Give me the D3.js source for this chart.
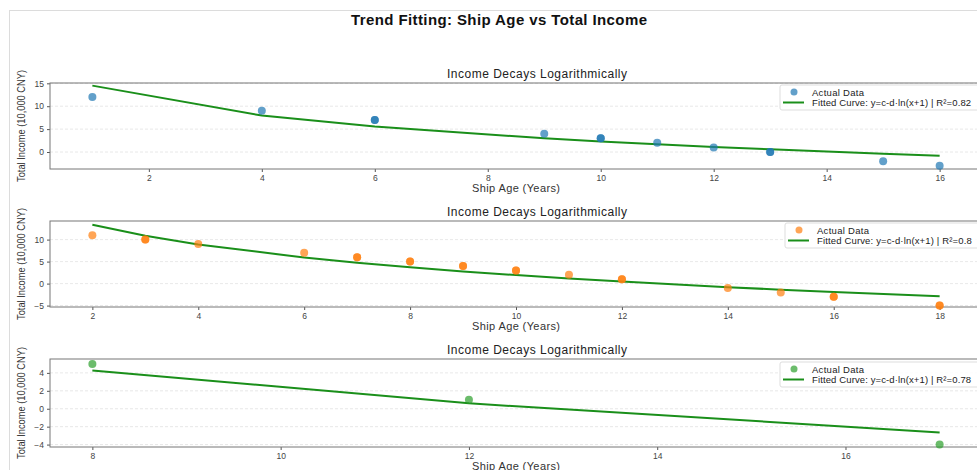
<!DOCTYPE html>
<html>
<head>
<meta charset="utf-8">
<script src="https://cdn.jsdelivr.net/npm/d3@7"></script>
<style>
  html, body { margin: 0; padding: 0; background: #fff; }
  svg { display: block; font-family: "Liberation Sans", Arial, sans-serif; }
</style>
</head>
<body>
<svg id="chart" width="977" height="470"></svg>
<script>
// Ship-age groups: observed income records (repeated records are kept as-is)
const ageA = [1, 4, 6, 6, 9, 10, 10, 11, 12, 13, 13, 15, 16];
const incomeA = [12, 9, 7, 7, 4, 3, 3, 2, 1, 0, 0, -2, -3];
const ageB = [2, 3, 3, 4, 6, 7, 7, 8, 8, 9, 9, 10, 10, 11, 12, 12, 14, 15, 16, 16, 18, 18];
const incomeB = [11, 10, 10, 9, 7, 6, 6, 5, 5, 4, 4, 3, 3, 2, 1, 1, -1, -2, -3, -3, -5, -5];
const ageC = [8, 12, 17];
const incomeC = [5, 1, -4];

// Fitted curve y = c - d*ln(x+1), evaluated at each distinct age
const fitAgeA = [1, 4, 6, 9, 10, 11, 12, 13, 15, 16];
const fitA = [14.5, 7.95, 5.55, 2.99, 2.31, 1.69, 1.12, 0.59, -0.36, -0.8];
const fitAgeB = [2, 3, 4, 6, 7, 8, 9, 10, 11, 12, 14, 15, 16, 18];
const fitB = [13.4, 10.86, 8.89, 5.92, 4.74, 3.7, 2.77, 1.93, 1.16, 0.45, -0.81, -1.38, -1.92, -2.9];
const fitAgeC = [8, 12, 17];
const fitC = [4.27, 0.6, -2.65];

const r2Labels = ["0.82", "0.8", "0.78"];
const xTicksA = [2, 4, 6, 8, 10, 12, 14, 16];
const xTicksB = [2, 4, 6, 8, 10, 12, 14, 16, 18];
const xTicksC = [8, 10, 12, 14, 16];
const yTicksA = [0, 5, 10, 15];
const yTicksB = [-5, 0, 5, 10];
const yTicksC = [-4, -2, 0, 2, 4];

const mainTitle = "Trend Fitting: Ship Age vs Total Income";
const subTitle = "Income Decays Logarithmically";
const xLabel = "Ship Age (Years)";
const yLabel = "Total Income (10,000 CNY)";

const panels = [
  { x: ageA, y: incomeA, fx: fitAgeA, fy: fitA, r2: r2Labels[0], xt: xTicksA, yt: yTicksA,
    xd: [0.25, 16.75], yd: [-3.71, 15.07], top: 83, bottom: 169, color: "#1f77b4",
    legend: { x: 780, y: 85 } },
  { x: ageB, y: incomeB, fx: fitAgeB, fy: fitB, r2: r2Labels[1], xt: xTicksB, yt: yTicksB,
    xd: [1.2, 18.8], yd: [-5.32, 14.23], top: 221, bottom: 307, color: "#ff7f0e",
    legend: { x: 785, y: 223 } },
  { x: ageC, y: incomeC, fx: fitAgeC, fy: fitC, r2: r2Labels[2], xt: xTicksC, yt: yTicksC,
    xd: [7.55, 17.45], yd: [-4.27, 5.55], top: 359, bottom: 447, color: "#2ca02c",
    legend: { x: 780, y: 362 } }
];

const svg = d3.select("#chart");
const left = 50, right = 982;
const fitColor = "#1a8f1a";

// figure frame
svg.append("rect").attr("x", 9.5).attr("y", 10.5).attr("width", 1000).attr("height", 500)
  .attr("fill", "none").attr("stroke", "#dcdcdc");

svg.append("text").attr("x", 499).attr("y", 25).attr("text-anchor", "middle")
  .attr("font-size", 15).attr("font-weight", "bold").attr("fill", "#111")
  .attr("textLength", 296).attr("lengthAdjust", "spacing").text(mainTitle);

panels.forEach(p => {
  const xs = d3.scaleLinear().domain(p.xd).range([left, right]);
  const ys = d3.scaleLinear().domain(p.yd).range([p.bottom, p.top]);
  const g = svg.append("g");

  // dashed horizontal grid
  g.selectAll("line.grid").data(p.yt).join("line").attr("class", "grid")
    .attr("x1", left).attr("x2", right).attr("y1", d => ys(d)).attr("y2", d => ys(d))
    .attr("stroke", "#e2e2e2").attr("stroke-dasharray", "3,2").attr("stroke-width", 0.8);

  // axes
  const xAxis = g.append("g").attr("transform", `translate(0,${p.bottom})`)
    .call(d3.axisBottom(xs).tickValues(p.xt).tickSize(3).tickPadding(3).tickFormat(d3.format("d")));
  const yAxis = g.append("g").attr("transform", `translate(${left},0)`)
    .call(d3.axisLeft(ys).tickValues(p.yt).tickSize(3).tickPadding(3).tickFormat(d3.format("d")));
  [xAxis, yAxis].forEach(a => {
    a.select(".domain").remove();
    a.selectAll(".tick line").attr("stroke", "#555");
    a.selectAll(".tick text").attr("fill", "#444").attr("font-size", 8.5)
      .attr("font-family", "Liberation Sans, Arial, sans-serif");
  });

  // plot border
  g.append("rect").attr("x", left).attr("y", p.top).attr("width", right - left)
    .attr("height", p.bottom - p.top).attr("fill", "none").attr("stroke", "#777").attr("stroke-width", 1);

  // titles and axis labels
  g.append("text").attr("x", 537).attr("y", p.top - 5).attr("text-anchor", "middle")
    .attr("font-size", 12).attr("fill", "#222")
    .attr("textLength", 180).attr("lengthAdjust", "spacing").text(subTitle);
  g.append("text").attr("x", 516).attr("y", p.bottom + 23).attr("text-anchor", "middle")
    .attr("font-size", 11).attr("fill", "#333")
    .attr("textLength", 88).attr("lengthAdjust", "spacing").text(xLabel);
  g.append("text").attr("transform", `translate(25,${(p.top + p.bottom) / 2}) rotate(-90)`)
    .attr("text-anchor", "middle").attr("font-size", 10).attr("fill", "#333")
    .attr("textLength", 112).attr("lengthAdjust", "spacingAndGlyphs").text(yLabel);

  // fitted curve
  const line = d3.line().x(d => xs(d[0])).y(d => ys(d[1]));
  g.append("path").datum(p.fx.map((v, i) => [v, p.fy[i]])).attr("d", line)
    .attr("fill", "none").attr("stroke", fitColor).attr("stroke-width", 2);

  // observed points
  g.selectAll("circle.pt").data(p.x.map((v, i) => [v, p.y[i]])).join("circle").attr("class", "pt")
    .attr("cx", d => xs(d[0])).attr("cy", d => ys(d[1])).attr("r", 4)
    .attr("fill", p.color).attr("fill-opacity", 0.7);

  // legend
  const L = p.legend;
  const fitText = `Fitted Curve: y=c-d\u00b7ln(x+1) | R\u00b2=${p.r2}`;
  const lg = g.append("g").attr("transform", `translate(${L.x},${L.y})`);
  lg.append("rect").attr("x", 0).attr("y", 0).attr("width", 200).attr("height", 25).attr("rx", 2)
    .attr("fill", "#fff").attr("fill-opacity", 0.85).attr("stroke", "#ddd");
  lg.append("circle").attr("cx", 14).attr("cy", 7).attr("r", 3.5).attr("fill", p.color).attr("fill-opacity", 0.7);
  lg.append("text").attr("x", 32).attr("y", 10.5).attr("font-size", 9.5).attr("fill", "#222")
    .attr("textLength", 52).attr("lengthAdjust", "spacing").text("Actual Data");
  lg.append("line").attr("x1", 3).attr("x2", 24).attr("y1", 17.5).attr("y2", 17.5)
    .attr("stroke", fitColor).attr("stroke-width", 2);
  lg.append("text").attr("x", 32).attr("y", 21).attr("font-size", 9.5).attr("fill", "#222")
    .attr("textLength", fitText.length * 4.3).attr("lengthAdjust", "spacing")
    .text(fitText);
});
</script>
</body>
</html>
